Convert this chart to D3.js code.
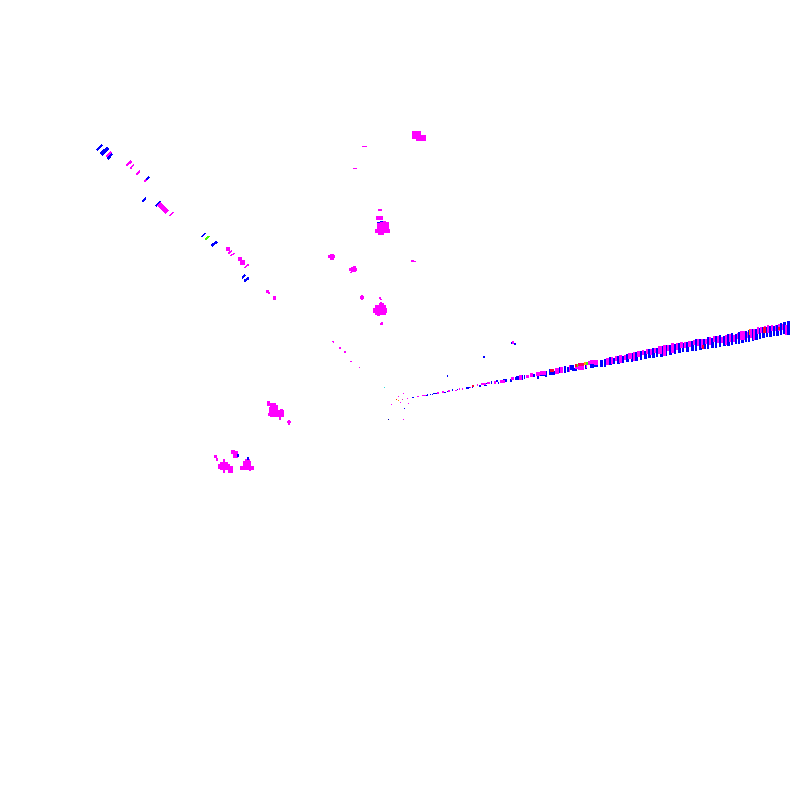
<!DOCTYPE html>
<html>
<head>
<meta charset="utf-8">
<script src="https://cdn.jsdelivr.net/npm/d3@7"></script>
<style>
  html, body { margin: 0; background: #fff; }
  svg { display: block; }
</style>
</head>
<body>
<div id="chart"></div>
<script>

// Slanted strokes on the upper left diagonal
const tickX1 = [97.5,102.5,107,108.5,127,131,137,145,147,143,156.5,160.5,170,202,206,212.5,227.5,229,231,245,242.5,245];
const tickY1 = [149.5,153,156,158,165,168,174,181,179,201,205.5,205.5,215.5,236.5,239,245,250.5,253,255.5,267.5,278,280.5];
const tickX2 = [101.5,107,110.5,111.5,130.5,133.5,139.5,147,148.5,145.5,160,165.5,173,205,209,216,229.5,231.5,234,248,244.5,248];
const tickY2 = [145.5,149,152.5,154.5,162,164.5,171,179,177.5,198,202,210.5,212.5,233.5,236.5,242.5,249,251,253.5,265,275.5,278.5];
const tickW = [1.5,4,1.5,2.5,2.5,1.5,2,2,2,2,2.5,5,2,1.5,2,2.5,1.5,2,1.5,1.5,2,2.5];
const tickC = ["b","b","m","b","m","m","m","m","b","b","b","m","m","b","g","b","b","m","m","m","b","b"];

// Magenta clumps, as boxes
const clumpX = [412,416,362,353,378,376,377,375,378,380,
  328,330,349,351,350,353,360,361,379,380,373,375,379,380,377,380,381,411,414,
  332,333,339,344,350,359,
  267,270,269,268,275,280,279,276,287,288,
  231,233,214,216,218,220,223,223,228,
  243,240,245,249,
  226,238,240,266,268,273,
  512];
const clumpY = [131,135,146,168,209,216,222,229,233,221,
  255,254,268,267,272,266,296,295,297,299,308,305,303,302,315,323,322,260,261,
  341,342,347,351,361,367,
  401,403,407,413,410,409,417,405,421,420,
  450,451,455,458,464,462,459,470,466,
  461,466,459,470,
  247,257,260,290,292,296,
  341];
const clumpW = [9,10,5,4,4,7,12,15,6,6,
  7,4,8,5,2,3,4,2,2,2,14,11,5,2,3,3,2,3,2,
  2,1,2,2,2,1,
  3,6,9,6,9,3,2,2,4,2,
  4,5,3,2,12,8,2,2,5,
  8,14,5,2,
  4,4,5,3,2,3,
  2];
const clumpH = [8,6,1,1,2,4,11,4,2,2,
  3,6,3,5,1,2,3,5,2,1,5,10,2,1,1,2,1,2,1,
  1,1,2,2,1,1,
  5,14,6,3,7,2,3,2,2,5,
  4,7,3,3,5,8,3,3,7,
  9,4,2,1,
  4,4,5,3,2,4,
  3];

const clumpBlueX = [377,380,237,247,511,514,483,447];
const clumpBlueY = [222,221,454,457,342,343,356,375];
const clumpBlueW = [3,3,2,2,1,2,2,1];
const clumpBlueH = [1,1,3,3,2,2,2,2];

// Single points around the vanishing point
const dotX = [403,398,402,407,400,408,391,403,396,398,384,404,388];
const dotY = [393,396,399,398,402,403,404,419,399,400,387,408,419];
const dotC = ["#ff00ff","#ff00ff","#cc44aa","#ff00ff","#ff00ff","#ff00ff","#ff00ff","#ff00ff","#ff3300","#ff9900","#33dddd","#0000ff","#0000aa"];

// The long ray: blue columns
const rayBlueX = [412,426,427,430,432,433,444,447,452,457,466,469,472,479,484,486,491,496,498,503,510,516,522,524,
  515,533,537,540,545,546,549,551,554,559,564,567,570,572,585,590,594,
  600,604,609,613,617,622,626,631,635,640,644,648,
  652,656,660,665,669,674,678,682,686,691,695,699,
  703,707,711,715,719,723,727,731,735,738,741,745,748,752,755,759,762,766,769,773,776,780,783,787];
const rayBlueY = [397,395,394,394,394,393,392,391,389,389,387,387,387,385,385,383,381,380,382,379,379,376,375,375,
  377,374,376,374,374,371,369,372,371,367,366,367,365,368,364,364,364,
  360,359,357,358,356,356,354,353,352,351,351,349,
  348,348,346,345,345,344,343,343,342,341,339,339,
  339,337,338,336,335,336,334,333,334,332,331,331,330,329,329,328,327,327,326,326,325,323,322,321];
const rayBlueW = [2,1,1,1,1,5,2,1,1,1,3,1,1,2,3,1,1,2,1,4,2,3,1,1,
  4,2,2,5,2,1,2,3,1,4,2,2,4,5,2,4,4,
  3,2,3,2,3,2,3,2,3,2,3,3,
  3,2,3,2,3,2,3,2,3,3,2,3,
  3,2,3,2,2,3,3,2,2,2,3,2,2,2,3,2,3,2,3,2,3,2,3,3];
const rayBlueH = [1,1,2,1,1,1,1,1,2,1,2,1,1,2,1,1,3,2,2,3,3,4,5,4,
  3,3,3,2,3,4,6,3,4,6,7,5,5,3,5,4,3,
  7,8,8,6,8,7,8,9,9,9,8,9,
  10,9,11,11,10,10,10,9,10,10,12,11,
  10,12,10,12,12,10,12,12,10,12,12,11,12,12,11,11,11,10,11,10,11,12,12,14];

// The long ray: magenta columns
const rayMagentaX = [417,422,437,442,448,455,459,462,470,477,481,487,494,500,511,519,
  526,530,536,540,555,560,569,575,578,586,588,590,594,
  606,611,615,619,624,628,633,637,642,646,
  650,654,658,663,667,671,676,680,684,688,693,697,
  701,705,709,713,717,721,725,729,733,737,740,744,747,750,753,757,760,764,767,771,775,778,782,785];
const rayMagentaY = [396,395,392,391,390,390,388,388,387,384,383,382,381,380,377,375,
  375,373,372,371,368,367,365,367,366,364,361,360,360,
  358,357,356,355,355,353,352,351,350,349,
  349,348,346,345,345,343,343,342,342,341,340,339,
  339,339,337,336,336,337,335,334,335,333,331,331,332,329,329,327,327,326,325,325,325,324,324,325];
const rayMagentaW = [2,4,2,2,2,2,1,1,1,1,5,3,2,5,3,3,
  3,3,4,6,4,3,1,3,6,1,2,4,4,
  3,2,2,3,2,4,2,3,2,2,
  2,2,4,3,2,3,2,3,2,3,2,2,
  2,2,2,2,2,2,2,2,2,1,4,1,1,2,2,2,2,2,2,2,1,2,1,2];
const rayMagentaH = [1,1,2,2,2,1,2,2,1,2,2,2,3,3,3,5,
  3,4,4,4,6,6,7,2,4,4,4,4,5,
  7,7,5,8,5,6,9,6,5,5,
  6,5,8,11,6,10,7,6,6,6,5,7,
  9,5,8,6,7,6,10,8,7,6,9,9,6,9,11,7,6,6,8,6,6,7,6,10];

// The long ray: the few other colours
const rayAccentX = [472,550,575,577,578,584,586,702,749,763,778,412,413];
const rayAccentY = [385,369,364,364,363,362,362,345,329,327,327,134,134];
const rayAccentW = [2,4,2,1,6,2,2,2,1,3,2,1,2];
const rayAccentH = [2,3,3,3,3,3,3,4,6,6,3,1,1];
const rayAccentC = ["#ff0033","#ff0033","#ff0033","#44ff00","#ff0066","#ffaa00","#44ff00","#ff0033","#ff6600","#ff0033","#ff0033","#ff0066","#ff0066"];

const width = 800;
const height = 800;

const x = d3.scaleLinear().domain([0, 800]).range([0, width]);
const y = d3.scaleLinear().domain([0, 800]).range([0, height]);
const tickColor = d3.scaleOrdinal().domain(["b", "m", "g"]).range(["#0000ff", "#ff00ff", "#44ff00"]);

const svg = d3.select("#chart")
    .append("svg")
    .attr("width", width)
    .attr("height", height)
    .style("background", "#fff")
    .attr("shape-rendering", "crispEdges");

// Draw a set of boxes from its four columns
function boxes(xs, ys, ws, hs, color) {
    svg.append("g")
        .selectAll("rect")
        .data(xs.map((d, i) => ({ x: d, y: ys[i], w: ws[i], h: hs[i], c: Array.isArray(color) ? color[i] : color })))
        .enter()
        .append("rect")
        .attr("x", d => x(d.x))
        .attr("y", d => y(d.y))
        .attr("width", d => x(d.x + d.w) - x(d.x))
        .attr("height", d => y(d.y + d.h) - y(d.y))
        .attr("fill", d => d.c);
}

boxes(rayBlueX, rayBlueY, rayBlueW, rayBlueH, "#0000ff");
boxes(rayMagentaX, rayMagentaY, rayMagentaW, rayMagentaH, "#ff00ff");
boxes(rayAccentX, rayAccentY, rayAccentW, rayAccentH, rayAccentC);

// Slanted strokes
svg.append("g")
    .selectAll("line")
    .data(tickX1.map((d, i) => i))
    .enter()
    .append("line")
    .attr("x1", i => x(tickX1[i]))
    .attr("y1", i => y(tickY1[i]))
    .attr("x2", i => x(tickX2[i]))
    .attr("y2", i => y(tickY2[i]))
    .attr("stroke-width", i => tickW[i])
    .attr("stroke-linecap", "square")
    .attr("stroke", i => tickColor(tickC[i]));

boxes(clumpX, clumpY, clumpW, clumpH, "#ff00ff");
boxes(clumpBlueX, clumpBlueY, clumpBlueW, clumpBlueH, "#0000ff");
boxes(dotX, dotY, dotX.map(() => 1), dotX.map(() => 1), dotC);
</script>
</body>
</html>
